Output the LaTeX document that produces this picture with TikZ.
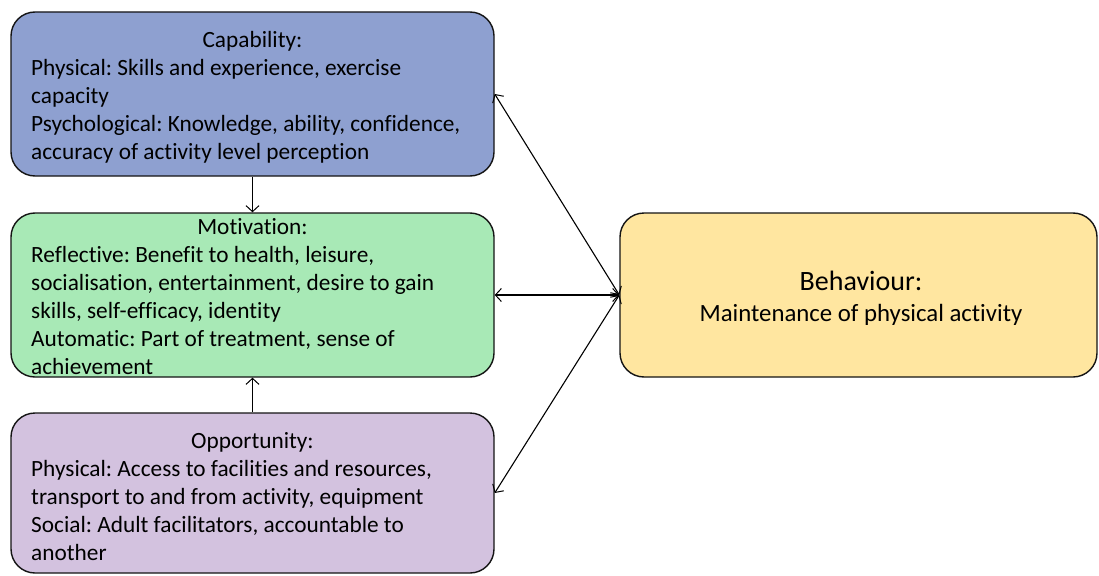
\documentclass[tikz,border=0pt]{standalone}
\usepackage{fontspec}
\setmainfont[Ligatures=NoCommon]{Carlito}
\frenchspacing
\usetikzlibrary{arrows.meta}
\definecolor{capfill}{RGB}{142,160,208}
\definecolor{motfill}{RGB}{168,233,182}
\definecolor{oppfill}{RGB}{211,194,223}
\definecolor{behfill}{RGB}{255,230,160}
\definecolor{edgecol}{RGB}{20,20,20}
\begin{document}
\begin{tikzpicture}[x=1pt,y=-1pt,
  boxstyle/.style={draw=edgecol, line width=1.4pt, rounded corners=24pt, inner sep=0pt},
  titletxt/.style={font=\fontsize{23.3}{28}\selectfont, inner sep=0pt, anchor=base},
  bodytxt/.style={font=\fontsize{23.3}{28}\selectfont, align=left, inner sep=0pt, anchor=north west},
  tip/.tip={Straight Barb[length=6pt,width=13pt,line width=1pt]},
  conn/.style={line width=1.1pt, draw=black}]
\useasboundingbox (0,0) rectangle (1099,575);
% boxes
\node[boxstyle, fill=capfill, minimum width=483pt, minimum height=164pt] (cap) at (252.5,94) {};
\node[boxstyle, fill=motfill, minimum width=483pt, minimum height=164pt] (mot) at (252.5,295) {};
\node[boxstyle, fill=oppfill, minimum width=483pt, minimum height=160pt] (opp) at (252.5,493) {};
\node[boxstyle, fill=behfill, minimum width=477pt, minimum height=164pt] (beh) at (858.5,295) {};
% texts
\node[titletxt] (capT) at (252.5,48) {Capability:};
\node[bodytxt] (capB) at (31,59) {Physical: Skills and experience, exercise\\capacity\\Psychological: Knowledge, ability, confidence,\\accuracy of activity level perception};
\node[titletxt] (motT) at (252.5,234) {Motivation:};
\node[bodytxt] (motB) at (31,246.5) {Reflective: Benefit to health, leisure,\\socialisation, entertainment, desire to gain\\skills, self-efficacy, identity\\Automatic: Part of treatment, sense of\\achievement};
\node[titletxt] (oppT) at (252.5,448) {Opportunity:};
\node[bodytxt] (oppB) at (31,460) {Physical: Access to facilities and resources,\\transport to and from activity, equipment\\Social: Adult facilitators, accountable to\\another};
\node[titletxt, font=\fontsize{28}{30}\selectfont] (behT) at (861,290) {Behaviour:};
\node[titletxt, font=\fontsize{24.8}{28}\selectfont] (behB) at (861,321) {Maintenance of physical activity};
% connectors
\draw[conn, -tip] (cap.south) -- (mot.north);
\draw[conn, -tip] (opp.north) -- (mot.south);
\draw[conn, tip-tip] (mot.east) -- (beh.west);
\draw[conn, tip-tip] (cap.east) -- (beh.west);
\draw[conn, tip-tip] (opp.east) -- (beh.west);
\end{tikzpicture}
\end{document}
